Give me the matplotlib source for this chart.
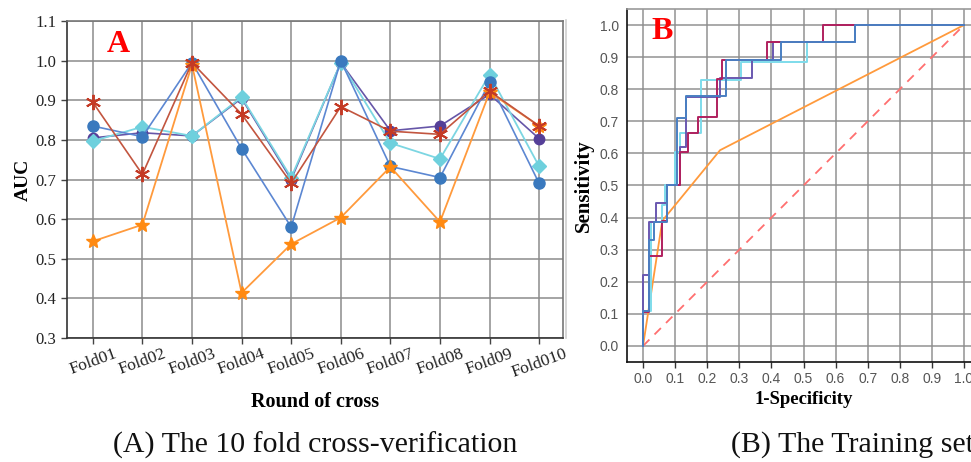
import numpy as np
import matplotlib
matplotlib.use("Agg")
import matplotlib.pyplot as plt
import matplotlib.transforms as mtransforms
from matplotlib.lines import Line2D

# ---- panel A: AUC of every fold in the 10 fold cross-verification ----
folds = ["Fold01", "Fold02", "Fold03", "Fold04", "Fold05",
         "Fold06", "Fold07", "Fold08", "Fold09", "Fold010"]
auc_purple = [0.805, 0.818, 0.810, 0.905, 0.700, 0.995, 0.823, 0.835, 0.915, 0.803]
auc_cyan = [0.797, 0.833, 0.810, 0.908, 0.705, 0.995, 0.792, 0.752, 0.965, 0.733]
auc_blue = [0.835, 0.808, 0.995, 0.778, 0.580, 1.000, 0.733, 0.705, 0.945, 0.690]
auc_orange = [0.544, 0.586, 0.990, 0.414, 0.537, 0.604, 0.732, 0.593, 0.920, 0.835]
auc_red = [0.895, 0.713, 0.995, 0.865, 0.691, 0.884, 0.822, 0.814, 0.923, 0.835]

# ---- panel B: ROC curves on the training set (step corners, up then right) ----
roc_blue_x = [0, 0.02, 0.035, 0.075, 0.105, 0.135, 0.26, 0.43, 0.66, 1.0]
roc_blue_y = [0, 0.11, 0.33, 0.385, 0.50, 0.71, 0.78, 0.89, 0.947, 1.0]
roc_purple_x = [0, 0.02, 0.04, 0.075, 0.115, 0.135, 0.24, 0.34, 0.405, 0.66, 1.0]
roc_purple_y = [0, 0.22, 0.385, 0.445, 0.50, 0.62, 0.775, 0.835, 0.89, 0.947, 1.0]
roc_crimson_x = [0, 0.02, 0.06, 0.075, 0.115, 0.14, 0.17, 0.23, 0.245, 0.385, 0.56, 1.0]
roc_crimson_y = [0, 0.105, 0.28, 0.39, 0.50, 0.605, 0.665, 0.715, 0.833, 0.89, 0.947, 1.0]
roc_cyan_x = [0, 0.025, 0.06, 0.07, 0.10, 0.115, 0.18, 0.305, 0.51, 0.66, 1.0]
roc_cyan_y = [0, 0.11, 0.385, 0.44, 0.50, 0.605, 0.665, 0.83, 0.885, 0.947, 1.0]
roc_orange_x = [0, 0.06, 0.24, 1.0]
roc_orange_y = [0, 0.39, 0.61, 1.0]

serif = ["Liberation Serif", "DejaVu Serif"]
sans = ["Liberation Sans", "DejaVu Sans"]

fig = plt.figure(figsize=(9.71, 4.62), dpi=100)

# panel A
ax = fig.add_axes([0.069, 0.2684, 0.5108, 0.6861])
x = np.arange(len(folds))
ax.plot(x, auc_purple, color="#6656A8", lw=1.2, marker="o", ms=7.5,
        mfc="#553F98", mec="#553F98", zorder=3)
ax.plot(x, auc_cyan, color="#7CD6E2", lw=1.3, marker="D", ms=7,
        mfc="#6ED0DD", mec="#6ED0DD", zorder=4)
ax.plot(x, auc_blue, color="#5C87D2", lw=1.2, marker="o", ms=8,
        mfc="#3A79BE", mec="#3A79BE", zorder=5)
ax.plot(x, auc_orange, color="#FF9A3C", lw=1.3, marker="*", ms=10,
        mfc="#FF8A12", mec="#FF8A12", zorder=6)
ax.plot(x, auc_red, color="#C2553F", lw=1.2, marker=(6, 2, 0), ms=11,
        mew=1.4, mec="#C43A25", zorder=7)

ax.set_xlim(-0.52, 9.48)
ax.set_ylim(0.3, 1.1)
ax.set_yticks(np.arange(0.3, 1.11, 0.1))
ax.set_yticklabels(["%.1f" % v for v in np.arange(0.3, 1.11, 0.1)],
                   family=serif, fontsize=12, color="#222222")
ax.set_xticks(x)
ax.set_xticklabels(folds, rotation=20, family=serif, fontsize=12.5,
                   color="#222222", ha="center")
# nudge the slanted fold names a little to the left
shift = mtransforms.ScaledTranslation(-8 / 100, 0, fig.dpi_scale_trans)
for lab in ax.get_xticklabels():
    lab.set_transform(lab.get_transform() + shift)
ax.grid(True, color="#8c8c8c", lw=1.3, alpha=0.85)
ax.set_axisbelow(True)
for side in ["left", "bottom"]:
    ax.spines[side].set_color("#333333")
    ax.spines[side].set_linewidth(1.2)
for side in ["top", "right"]:
    ax.spines[side].set_color("#777777")
    ax.spines[side].set_linewidth(1.2)
ax.tick_params(axis="both", length=4, width=1, color="#444444")
ax.tick_params(axis="x", pad=2)
ax.set_ylabel("AUC", family=serif, fontsize=14, fontweight="bold", labelpad=3)
ax.set_xlabel("Round of cross", family=serif, fontsize=14.5,
              fontweight="bold", labelpad=8)
ax.text(0.08, 0.925, "A", transform=ax.transAxes, family=serif,
        fontsize=23, fontweight="bold", color="#FF0000", ha="left", va="center")

# panel B
bx = fig.add_axes([0.6457, 0.2165, 0.3636, 0.764])
bx.plot([0, 1], [0, 1], color="#FF6F6F", lw=1.3, ls=(0, (5, 4)), zorder=2)
bx.plot(roc_orange_x, roc_orange_y, color="#FF9A3C", lw=1.3, zorder=3)
bx.plot(roc_cyan_x, roc_cyan_y, color="#7EDCEB", lw=1.4, drawstyle="steps-pre", zorder=4)
bx.plot(roc_purple_x, roc_purple_y, color="#6A58B0", lw=1.4, drawstyle="steps-pre", zorder=5)
bx.plot(roc_crimson_x, roc_crimson_y, color="#B0205E", lw=1.4, drawstyle="steps-pre", zorder=6)
bx.plot(roc_blue_x, roc_blue_y, color="#4A7FC2", lw=1.4, drawstyle="steps-pre", zorder=7)

ticks_b = np.round(np.arange(0, 1.01, 0.1), 1)
bx.set_xlim(-0.05, 1.05)
bx.set_ylim(-0.05, 1.05)
bx.set_xticks(ticks_b)
bx.set_yticks(ticks_b)
bx.set_xticklabels(["%.1f" % v for v in ticks_b], family=sans, fontsize=10, color="#555555")
bx.set_yticklabels(["%.1f" % v for v in ticks_b], family=sans, fontsize=10, color="#555555")
bx.grid(True, color="#8c8c8c", lw=1.3, alpha=0.8)
bx.set_axisbelow(True)
for side in ["left", "bottom"]:
    bx.spines[side].set_color("#111111")
    bx.spines[side].set_linewidth(1.2)
for side in ["top", "right"]:
    bx.spines[side].set_color("#999999")
    bx.spines[side].set_linewidth(1.2)
bx.tick_params(axis="x", length=4, width=1, color="#333333")
bx.tick_params(axis="y", length=0, pad=6)
bx.set_ylabel("Sensitivity", family=serif, fontsize=15, fontweight="bold", labelpad=4)
bx.set_xlabel("1-Specificity", family=serif, fontsize=13.5, fontweight="bold", labelpad=3)
bx.text(0.068, 0.935, "B", transform=bx.transAxes, family=serif,
        fontsize=23, fontweight="bold", color="#FF0000", ha="left", va="center")

# faint separator between the two panels
fig.add_artist(Line2D([566 / 971, 566 / 971], [1 - 20 / 462, 1 - 338 / 462],
                      color="#cfcfcf", lw=1.2))

# captions under the panels
fig.text(315 / 971, 1 - 445 / 462, "(A) The 10 fold cross-verification",
         family=serif, fontsize=21.5, ha="center", va="center", color="#111111")
fig.text(731 / 971, 1 - 445 / 462, "(B) The Training set",
         family=serif, fontsize=21.5, ha="left", va="center", color="#111111")

fig.savefig("out.png", dpi=100)
